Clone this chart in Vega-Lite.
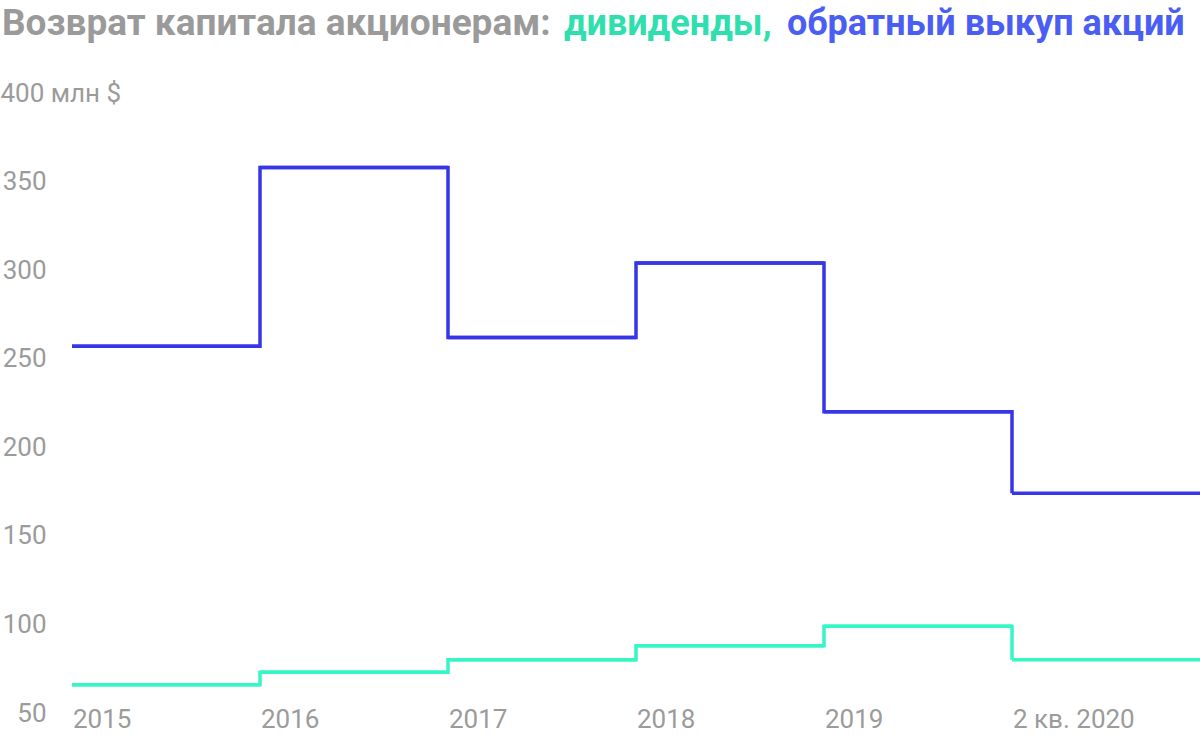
{
  "$schema": "https://vega.github.io/schema/vega-lite/v6.json",
  "width": 1128,
  "height": 620,
  "autosize": "none",
  "padding": {"left": 72, "top": 93, "right": 0, "bottom": 24},
  "background": "white",
  "data": {
    "values": [
      {"period": "2015", "series": "дивиденды", "value": 66},
      {"period": "2016", "series": "дивиденды", "value": 73},
      {"period": "2017", "series": "дивиденды", "value": 80},
      {"period": "2018", "series": "дивиденды", "value": 88},
      {"period": "2019", "series": "дивиденды", "value": 99},
      {"period": "2 кв. 2020", "series": "дивиденды", "value": 80},
      {"period": "2015", "series": "обратный выкуп акций", "value": 257},
      {"period": "2016", "series": "обратный выкуп акций", "value": 358},
      {"period": "2017", "series": "обратный выкуп акций", "value": 262},
      {"period": "2018", "series": "обратный выкуп акций", "value": 304},
      {"period": "2019", "series": "обратный выкуп акций", "value": 220},
      {"period": "2 кв. 2020", "series": "обратный выкуп акций", "value": 174}
    ]
  },
  "encoding": {
    "x": {
      "field": "period",
      "type": "ordinal",
      "sort": null,
      "scale": {"type": "band", "paddingInner": 0, "paddingOuter": 0},
      "axis": {
        "title": null,
        "labelAlign": "left",
        "labelBaseline": "alphabetic",
        "labelPadding": 14,
        "labelOffset": -93,
        "labelAngle": 0,
        "ticks": false,
        "tickSize": 0,
        "domain": false,
        "grid": false,
        "labelFont": "Roboto",
        "labelFontSize": 26,
        "labelColor": "#9b9b9b",
        "labelFlush": false,
        "labelOverlap": false,
        "labelLimit": 0
      }
    },
    "y": {
      "field": "value",
      "type": "quantitative",
      "scale": {"domain": [50, 400], "nice": false, "zero": false},
      "axis": {
        "title": null,
        "values": [50, 100, 150, 200, 250, 300, 350, 400],
        "grid": false,
        "domain": false,
        "ticks": false,
        "tickSize": 0,
        "labelFont": "Roboto",
        "labelFontSize": 26,
        "labelColor": "#9b9b9b",
        "labelBaseline": "middle",
        "labelAlign": {"condition": {"test": "datum.value == 400", "value": "left"}, "value": "right"},
        "labelPadding": {"condition": {"test": "datum.value == 400", "value": 72}, "value": 26},
        "labelExpr": "datum.value == 400 ? datum.label + ' млн $' : datum.label",
        "labelLimit": 0,
        "labelOverlap": false
      }
    },
    "color": {
      "field": "series",
      "type": "nominal",
      "scale": {"domain": ["дивиденды", "обратный выкуп акций"], "range": ["#36f5c6", "#3636e6"]},
      "legend": {
        "orient": "none",
        "legendX": -70,
        "legendY": -87,
        "direction": "horizontal",
        "title": "Возврат капитала акционерам:",
        "titleOrient": "left",
        "titleFont": "Roboto",
        "titleFontSize": 37,
        "titleFontWeight": "bold",
        "titleColor": "#9a9a9a",
        "titleLimit": 900,
        "titlePadding": 8,
        "labelFont": "Roboto",
        "labelFontSize": 36,
        "labelFontWeight": "bold",
        "labelLimit": 900,
        "labelOffset": -31,
        "labelExpr": "datum.label == 'дивиденды' ? 'дивиденды,' : datum.label",
        "symbolSize": 0,
        "symbolOpacity": 0,
        "symbolStrokeWidth": 0,
        "columnPadding": 10,
        "padding": 0,
        "encode": {
          "labels": {
            "update": {
              "fill": {"signal": "datum.value === 'дивиденды' ? '#2fdfae' : '#4b5ef3'"}
            }
          }
        }
      }
    }
  },
  "layer": [
    {
      "mark": {"type": "line", "interpolate": "step-after", "strokeWidth": 3.5, "strokeJoin": "miter", "strokeCap": "butt"},
      "encoding": {
        "x": {"field": "period", "type": "ordinal", "sort": null, "bandPosition": 0}
      }
    },
    {
      "mark": {"type": "tick", "orient": "horizontal", "thickness": 3.5, "size": 188, "opacity": 1},
      "encoding": {
        "color": {"field": "series", "type": "nominal", "legend": null}
      }
    }
  ],
  "config": {
    "view": {"stroke": null}
  }
}
